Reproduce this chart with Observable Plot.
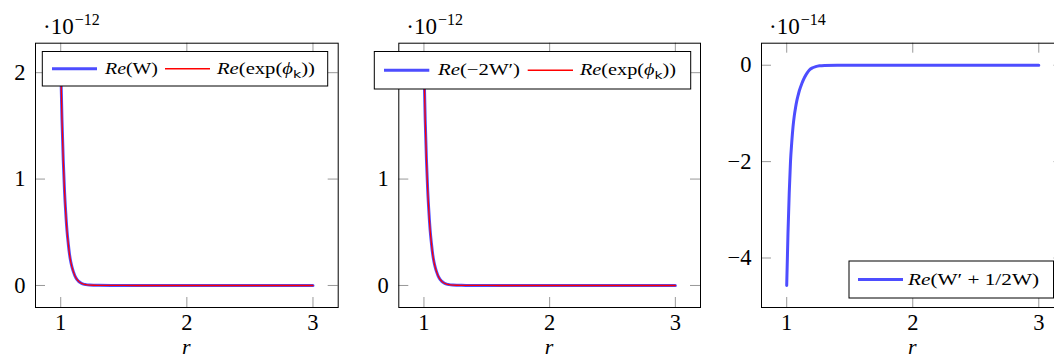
<!DOCTYPE html>
<html><head><meta charset="utf-8">
<script src="https://cdn.jsdelivr.net/npm/d3@7"></script>
<script src="https://cdn.jsdelivr.net/npm/@observablehq/plot@0.6"></script>
<style>
body{margin:0;background:#fff;}
#wrap{position:relative;width:1054px;height:362px;overflow:hidden;background:#fff;}
#wrap svg{position:absolute;top:0;}
</style></head><body><div id="wrap"></div>
<script>
// ---- data (values in units of the exponent shown above each panel) ----
const xTicks = [1, 2, 3];
const yTicksAB = [0, 1, 2];
const yTicksC = [0, -2, -4];

const rGrid = [1.00,1.01,1.02,1.03,1.04,1.05,1.06,1.07,1.08,1.09,1.10,1.12,1.14,1.16,1.18,1.20,1.23,1.26,1.30,1.40,1.60,2.00,2.50,3.00];
// panel 1 (·10^-12)
const reW       = [2.07,1.56,1.18,0.89,0.68,0.51,0.39,0.29,0.22,0.17,0.13,0.072,0.041,0.023,0.013,0.008,0.004,0.002,0.001,0.0001,0,0,0,0];
const reExpPhiA = [2.07,1.56,1.18,0.89,0.68,0.51,0.39,0.29,0.22,0.17,0.13,0.072,0.041,0.023,0.013,0.008,0.004,0.002,0.001,0.0001,0,0,0,0];
// panel 2 (·10^-12)
const reMinus2Wp = [2.07,1.56,1.18,0.89,0.68,0.51,0.39,0.29,0.22,0.17,0.13,0.072,0.041,0.023,0.013,0.008,0.004,0.002,0.001,0.0001,0,0,0,0];
const reExpPhiB  = [2.07,1.56,1.18,0.89,0.68,0.51,0.39,0.29,0.22,0.17,0.13,0.072,0.041,0.023,0.013,0.008,0.004,0.002,0.001,0.0001,0,0,0,0];
// panel 3 (·10^-14)
const reWpHalfW = [-4.57,-3.5,-2.65,-2.0,-1.6,-1.28,-1.05,-0.88,-0.74,-0.63,-0.53,-0.38,-0.26,-0.17,-0.1,-0.06,-0.03,-0.012,-0.004,-0.0005,0,0,0,0];

const BLUE = "#4d4dff", RED = "#ff0000";
const SERIF = "Liberation Serif";
const H = 362, MT = 42.7, MB = 55;
const wrap = document.getElementById("wrap");
const fmt = d => d < 0 ? "\u2212" + (-d) : String(d);

function toRows(xs, ys) { return xs.map((r, i) => ({r, v: ys[i]})); }

function panel({left, width, ml, mr, yDomain, yTicks, series, exponent, legend}) {
  const ph = H - MT - MB, pw = width - ml - mr;
  const lines = series.map(s => Plot.line(toRows(rGrid, s.values), {x: "r", y: "v", stroke: s.color, strokeWidth: s.width, curve: "monotone-x"}));
  const svg = Plot.plot({
    width, height: H,
    marginLeft: ml, marginRight: mr, marginTop: MT, marginBottom: MB,
    style: {background: "transparent", color: "black", overflow: "visible"},
    x: {domain: [0.8, 3.2]},
    y: {domain: yDomain},
    marks: [
      Plot.tickX(xTicks, {x: d => d, stroke: "#999", strokeWidth: 1, insetTop: ph - 10}),
      Plot.tickX(xTicks, {x: d => d, stroke: "#999", strokeWidth: 1, insetBottom: ph - 10}),
      Plot.tickY(yTicks, {y: d => d, stroke: "#999", strokeWidth: 1, insetRight: pw - 10}),
      Plot.tickY(yTicks, {y: d => d, stroke: "#999", strokeWidth: 1, insetLeft: pw - 10}),
      Plot.axisX({ticks: xTicks, tickFormat: fmt, tickSize: 0, tickPadding: 7, label: null, fontSize: 22.5, fontFamily: SERIF}),
      Plot.axisY({ticks: yTicks, tickFormat: fmt, tickSize: 0, tickPadding: 10, label: null, fontSize: 22.5, fontFamily: SERIF}),
      ...lines,
      Plot.frame({stroke: "black", strokeWidth: 1})
    ]
  });
  svg.setAttribute("font-family", SERIF);
  svg.style.left = left + "px";
  svg.style.position = "absolute";
  svg.style.top = "0px";
  wrap.appendChild(svg);
  d3.select(svg).selectAll("text").attr("font-family", SERIF);
  const g = d3.select(svg).append("g").attr("text-anchor", "start").attr("font-family", SERIF);
  // axis title
  g.append("text").attr("x", ml + pw / 2).attr("y", 354).attr("text-anchor", "middle")
    .attr("font-size", 22).attr("font-style", "italic").attr("fill", "black").text("r");
  // exponent label
  const ex = g.append("text").attr("x", ml + 8).attr("y", 34).attr("font-size", 23).attr("fill", "black");
  ex.append("tspan").text("·10");
  ex.append("tspan").attr("font-size", 16).attr("dy", -9).attr("dx", 1).text(exponent);
  // legend
  const L = legend;
  g.append("rect").attr("x", L.x0 - left).attr("y", L.y0).attr("width", L.x1 - L.x0).attr("height", L.y1 - L.y0)
    .attr("fill", "white").attr("stroke", "black").attr("stroke-width", 1);
  const cy = (L.y0 + L.y1) / 2;
  for (const it of L.items) {
    g.append("line").attr("x1", it.l0 - left).attr("x2", it.l1 - left).attr("y1", cy).attr("y2", cy)
      .attr("stroke", it.color).attr("stroke-width", it.width);
    const t = g.append("text").attr("x", it.t0 - left).attr("y", cy + 5).attr("font-size", 16)
      .attr("fill", "black").attr("textLength", it.t1 - it.t0).attr("lengthAdjust", "spacingAndGlyphs");
    for (const [s, kind] of it.parts) {
      const sp = t.append("tspan").text(s);
      if (kind === "i") sp.attr("font-style", "italic");
      if (kind === "sub") sp.attr("font-family", "DejaVu Sans").attr("font-size", 11).attr("dy", 4);
      if (kind === "up") sp.attr("dy", -4);
    }
  }
}

panel({
  left: 0, width: 350, ml: 35, mr: 12.3, yDomain: [-0.207, 2.277], yTicks: yTicksAB, exponent: "−12",
  series: [{values: reW, color: BLUE, width: 3}, {values: reExpPhiA, color: RED, width: 1.3}],
  legend: {x0: 42.3, x1: 327.7, y0: 51.5, y1: 86, items: [
    {color: BLUE, width: 3, l0: 52, l1: 97, t0: 105, t1: 158, parts: [["Re", "i"], ["(W)", ""]]},
    {color: RED, width: 1.3, l0: 165, l1: 210, t0: 217, t1: 315, parts: [["Re", "i"], ["(exp(", ""], ["ϕ", "i"], ["k", "sub"], ["))", "up"]]}
  ]}
});
panel({
  left: 350, width: 360, ml: 48.3, mr: 10, yDomain: [-0.207, 2.277], yTicks: yTicksAB, exponent: "−12",
  series: [{values: reMinus2Wp, color: BLUE, width: 3}, {values: reExpPhiB, color: RED, width: 1.3}],
  legend: {x0: 374.3, x1: 690.7, y0: 51.5, y1: 89, items: [
    {color: BLUE, width: 3, l0: 384, l1: 429.3, t0: 438, t1: 520, parts: [["Re", "i"], ["(−2W′)", ""]]},
    {color: RED, width: 1.3, l0: 527.7, l1: 573, t0: 580, t1: 676, parts: [["Re", "i"], ["(exp(", ""], ["ϕ", "i"], ["k", "sub"], ["))", "up"]]}
  ]}
});
panel({
  left: 700, width: 370, ml: 61, mr: 6.5, yDomain: [-5.027, 0.457], yTicks: yTicksC, exponent: "−14",
  series: [{values: reWpHalfW, color: BLUE, width: 3}],
  legend: {x0: 849, x1: 1053.5, y0: 261, y1: 298, items: [
    {color: BLUE, width: 3, l0: 858, l1: 903, t0: 908, t1: 1039, parts: [["Re", "i"], ["(W′ + 1/2W)", ""]]}
  ]}
});
</script></body></html>
